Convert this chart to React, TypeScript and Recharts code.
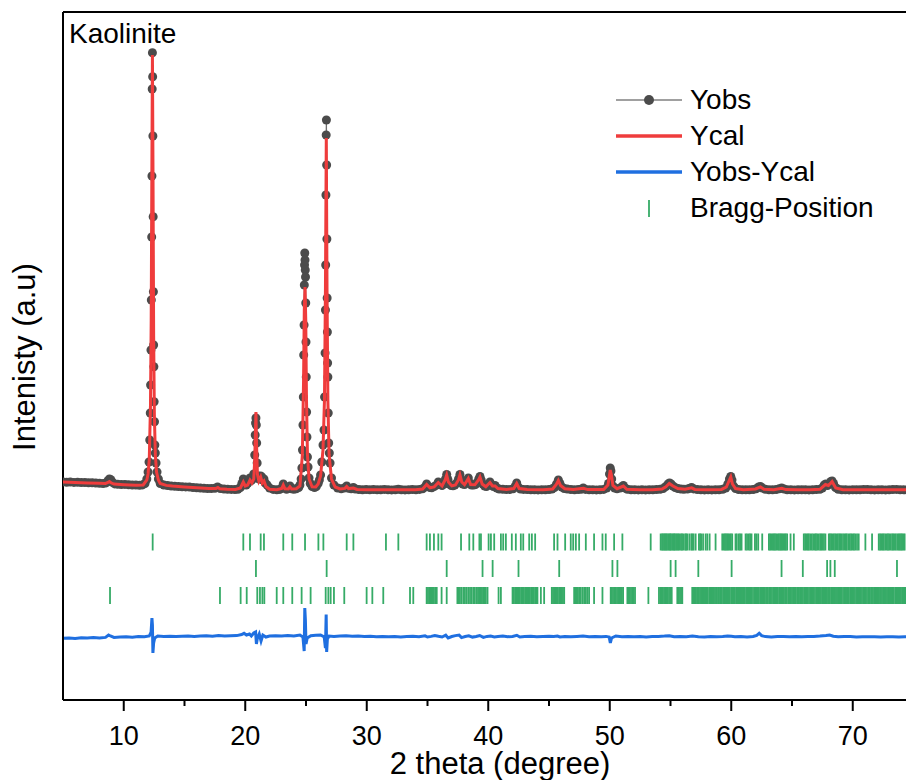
import React from 'react';
import { ComposedChart, Line, Scatter, XAxis, YAxis, ReferenceLine, Legend } from 'recharts';

// 2theta (deg) vs counts
const yObs: [number, number][] = [
  [5.0, 362], [5.3, 356], [5.6, 360], [5.9, 352], [6.2, 356], [6.5, 348], [6.8, 350], [7.1, 344], [7.4, 346],
  [7.7, 338], [8.0, 336], [8.3, 330], [8.55, 342], [8.7, 384], [8.82, 420], [8.94, 404], [9.06, 356], [9.25, 322],
  [9.5, 316], [9.8, 310], [10.1, 312], [10.4, 304], [10.7, 300], [11.0, 298], [11.3, 296], [11.55, 302], [11.75, 330],
  [11.9, 420], [12.0, 560], [12.08, 760], [12.14, 1200], [12.18, 1740], [12.21, 2300], [12.24, 3000], [12.27, 4000],
  [12.3, 5260], [12.32, 6480], [12.34, 8220], [12.36, 8946], [12.38, 8466], [12.4, 7280], [12.42, 5666], [12.44, 4166],
  [12.46, 3100], [12.48, 2666], [12.5, 1966], [12.53, 1566], [12.56, 1100], [12.6, 940], [12.66, 740], [12.74, 560],
  [12.85, 420], [13.0, 330], [13.3, 300], [13.6, 290], [13.9, 280], [14.2, 276], [14.5, 270], [14.8, 266], [15.1, 262],
  [15.4, 258], [15.7, 250], [16.0, 246], [16.3, 240], [16.6, 236], [16.9, 230], [17.2, 228], [17.5, 236], [17.72, 262],
  [17.95, 228], [18.25, 220], [18.55, 216], [18.85, 212], [19.15, 210], [19.4, 214], [19.6, 250], [19.72, 330],
  [19.84, 420], [19.95, 340], [20.08, 300], [20.22, 340], [20.39, 440], [20.5, 390], [20.6, 420], [20.7, 520],
  [20.78, 900], [20.82, 1300], [20.85, 1540], [20.88, 1640], [20.91, 1500], [20.94, 1140], [20.98, 740], [21.05, 480],
  [21.15, 420], [21.27, 480], [21.36, 460], [21.45, 400], [21.54, 420], [21.65, 340], [21.8, 300], [22.0, 240],
  [22.3, 212], [22.6, 206], [22.85, 212], [23.0, 240], [23.13, 320], [23.25, 240], [23.4, 214], [23.55, 230],
  [23.68, 280], [23.8, 226], [24.0, 216], [24.2, 224], [24.4, 250], [24.5, 300], [24.6, 420], [24.66, 640],
  [24.71, 1000], [24.75, 1500], [24.78, 2060], [24.81, 2900], [24.84, 3500], [24.86, 4300], [24.88, 4700], [24.9, 4940],
  [24.92, 4800], [24.94, 4600], [24.96, 4460], [24.98, 3940], [25.0, 3160], [25.02, 2460], [25.05, 1760], [25.08, 1260],
  [25.12, 860], [25.17, 660], [25.25, 440], [25.35, 330], [25.5, 270], [25.7, 250], [25.85, 270], [26.0, 330],
  [26.1, 400], [26.2, 500], [26.3, 760], [26.4, 1100], [26.48, 1400], [26.53, 2060], [26.57, 2940], [26.6, 3800],
  [26.62, 4700], [26.64, 6100], [26.66, 7300], [26.68, 7600], [26.7, 6700], [26.72, 5220], [26.74, 4040], [26.76, 3360],
  [26.78, 2740], [26.8, 2460], [26.83, 1740], [26.87, 1140], [26.92, 940], [26.98, 740], [27.1, 440], [27.3, 300],
  [27.6, 240], [27.9, 224], [28.15, 238], [28.35, 280], [28.5, 236], [28.72, 226], [28.9, 250], [29.05, 220],
  [29.35, 210], [29.65, 206], [29.95, 210], [30.25, 204], [30.55, 208], [30.85, 204], [31.15, 206], [31.45, 212],
  [31.75, 206], [32.05, 202], [32.35, 206], [32.6, 214], [32.85, 204], [33.15, 202], [33.45, 206], [33.75, 210],
  [34.05, 206], [34.35, 212], [34.6, 224], [34.8, 260], [34.93, 320], [35.05, 270], [35.2, 250], [35.35, 246],
  [35.55, 270], [35.75, 300], [35.89, 360], [36.02, 310], [36.2, 290], [36.35, 320], [36.48, 420], [36.58, 510],
  [36.68, 410], [36.8, 320], [36.95, 290], [37.1, 286], [37.25, 300], [37.4, 340], [37.55, 420], [37.67, 510],
  [37.78, 400], [37.9, 320], [38.05, 310], [38.2, 350], [38.36, 440], [38.48, 340], [38.62, 300], [38.8, 300],
  [38.95, 310], [39.1, 350], [39.22, 420], [39.32, 470], [39.42, 400], [39.55, 320], [39.7, 280], [39.85, 270],
  [40.0, 300], [40.14, 360], [40.28, 300], [40.42, 270], [40.56, 290], [40.7, 240], [40.9, 220], [41.2, 214],
  [41.5, 210], [41.8, 212], [42.05, 224], [42.22, 270], [42.34, 340], [42.46, 260], [42.65, 220], [42.9, 212],
  [43.2, 208], [43.5, 206], [43.8, 204], [44.1, 202], [44.4, 204], [44.7, 206], [45.0, 208], [45.25, 220],
  [45.45, 250], [45.62, 320], [45.77, 400], [45.9, 330], [46.05, 260], [46.25, 230], [46.5, 218], [46.8, 210],
  [47.1, 206], [47.4, 208], [47.65, 214], [47.82, 240], [48.0, 212], [48.3, 206], [48.6, 204], [48.9, 202],
  [49.2, 206], [49.5, 212], [49.75, 240], [49.9, 330], [49.98, 520], [50.04, 640], [50.1, 580], [50.16, 420],
  [50.26, 280], [50.4, 240], [50.6, 226], [50.85, 240], [51.0, 262], [51.12, 290], [51.25, 240], [51.45, 214],
  [51.75, 206], [52.05, 204], [52.35, 202], [52.65, 204], [52.95, 202], [53.25, 206], [53.55, 204], [53.85, 208],
  [54.15, 214], [54.4, 230], [54.62, 270], [54.8, 320], [54.92, 340], [55.05, 320], [55.2, 280], [55.38, 250],
  [55.6, 228], [55.85, 218], [56.1, 214], [56.4, 220], [56.6, 236], [56.74, 250], [56.9, 222], [57.2, 208],
  [57.5, 204], [57.8, 202], [58.1, 204], [58.4, 202], [58.7, 204], [59.0, 206], [59.3, 214], [59.55, 240],
  [59.72, 320], [59.85, 420], [59.96, 470], [60.06, 400], [60.18, 280], [60.35, 230], [60.6, 210], [60.9, 206],
  [61.2, 204], [61.5, 204], [61.8, 208], [62.05, 224], [62.25, 262], [62.4, 270], [62.55, 240], [62.8, 214],
  [63.1, 206], [63.4, 204], [63.7, 208], [63.95, 224], [64.15, 240], [64.35, 220], [64.6, 206], [64.9, 204],
  [65.2, 202], [65.5, 204], [65.8, 206], [66.1, 204], [66.4, 202], [66.7, 206], [67.0, 208], [67.3, 214],
  [67.5, 240], [67.65, 300], [67.78, 320], [67.92, 290], [68.08, 320], [68.2, 370], [68.3, 380], [68.42, 330],
  [68.58, 250], [68.8, 214], [69.1, 206], [69.4, 204], [69.7, 202], [70.0, 204], [70.3, 206], [70.6, 204],
  [70.9, 210], [71.2, 208], [71.5, 204], [71.8, 202], [72.1, 206], [72.4, 204], [72.7, 202], [73.0, 206],
  [73.3, 208], [73.6, 212], [73.9, 206], [74.2, 204], [74.5, 202], [74.8, 204], [75.0, 202],
];

const yCal: [number, number][] = [
  [5.0, 360], [6.0, 350], [7.0, 342], [8.0, 334], [8.5, 332], [8.7, 350], [8.82, 370], [8.95, 345], [9.2, 318],
  [10.0, 306], [11.0, 296], [11.6, 300], [11.9, 400], [12.0, 520], [12.1, 800], [12.2, 1900], [12.26, 3600],
  [12.31, 6400], [12.36, 8900], [12.41, 6400], [12.46, 3300], [12.52, 1700], [12.6, 900], [12.7, 560], [12.85, 400],
  [13.0, 330], [13.5, 292], [14.0, 278], [15.0, 262], [16.0, 246], [17.0, 230], [17.6, 232], [17.75, 250],
  [17.9, 226], [18.5, 216], [19.2, 210], [19.6, 240], [19.84, 360], [20.0, 280], [20.2, 300], [20.39, 400],
  [20.55, 340], [20.7, 420], [20.78, 800], [20.84, 1400], [20.88, 1760], [20.93, 1100], [21.0, 520], [21.12, 380],
  [21.27, 460], [21.4, 340], [21.54, 380], [21.7, 270], [22.0, 216], [22.6, 206], [23.0, 230], [23.13, 300],
  [23.26, 226], [23.55, 222], [23.68, 266], [23.82, 222], [24.2, 224], [24.5, 280], [24.7, 900], [24.8, 2400],
  [24.86, 3800], [24.92, 4260], [24.98, 3600], [25.04, 2000], [25.12, 900], [25.25, 420], [25.5, 262], [25.8, 260],
  [26.0, 320], [26.2, 480], [26.4, 1000], [26.52, 2000], [26.6, 4200], [26.67, 7240], [26.73, 4200], [26.8, 2000],
  [26.9, 900], [27.1, 420], [27.4, 260], [27.8, 222], [28.2, 232], [28.35, 270], [28.5, 228], [28.9, 240],
  [29.2, 212], [30.0, 206], [31.0, 206], [32.0, 204], [33.0, 204], [34.0, 206], [34.6, 220], [34.93, 310],
  [35.2, 244], [35.55, 262], [35.89, 350], [36.2, 280], [36.45, 400], [36.58, 500], [36.72, 360], [37.0, 282],
  [37.3, 300], [37.55, 400], [37.67, 500], [37.82, 360], [38.05, 306], [38.36, 430], [38.55, 310], [38.9, 304],
  [39.2, 400], [39.32, 460], [39.5, 320], [39.8, 266], [40.14, 350], [40.35, 280], [40.56, 280], [40.8, 228],
  [41.5, 210], [42.1, 230], [42.34, 330], [42.55, 230], [43.2, 208], [44.5, 204], [45.3, 220], [45.6, 310],
  [45.77, 390], [45.95, 290], [46.3, 226], [47.0, 208], [47.82, 236], [48.2, 208], [49.5, 210], [49.85, 300],
  [49.98, 500], [50.04, 600], [50.12, 520], [50.26, 290], [50.6, 226], [51.12, 280], [51.4, 214], [52.5, 204],
  [53.5, 204], [54.3, 220], [54.62, 264], [54.9, 330], [55.2, 280], [55.6, 228], [56.2, 214], [56.74, 244],
  [57.0, 212], [58.0, 204], [59.2, 212], [59.6, 260], [59.85, 400], [59.96, 460], [60.1, 320], [60.35, 228],
  [61.0, 206], [62.0, 220], [62.4, 262], [62.7, 216], [63.5, 206], [64.15, 234], [64.5, 208], [65.5, 204],
  [66.5, 204], [67.3, 214], [67.75, 310], [68.0, 290], [68.3, 370], [68.6, 240], [69.2, 206], [70.5, 204],
  [72.0, 204], [73.5, 206], [75.0, 202],
];

// Yobs-Ycal, drawn shifted below the patterns
const yDiff: [number, number][] = [
  [5.0, -2766], [5.5, -2760], [6.0, -2770], [6.5, -2756], [7.0, -2762], [7.5, -2752], [8.0, -2758], [8.5, -2748],
  [8.75, -2700], [8.9, -2720], [9.2, -2750], [9.7, -2742], [10.2, -2736], [10.7, -2744], [11.2, -2730], [11.7, -2736],
  [12.1, -2720], [12.25, -2640], [12.32, -2360], [12.36, -2500], [12.4, -3060], [12.46, -2860], [12.55, -2760],
  [12.8, -2720], [13.3, -2730], [13.8, -2724], [14.3, -2732], [14.8, -2726], [15.3, -2720], [15.8, -2728],
  [16.3, -2722], [16.8, -2716], [17.3, -2724], [17.8, -2712], [18.3, -2720], [18.8, -2716], [19.3, -2712],
  [19.7, -2690], [19.9, -2666], [20.1, -2700], [20.35, -2680], [20.5, -2720], [20.7, -2660], [20.85, -2640],
  [20.92, -2880], [21.0, -2760], [21.15, -2680], [21.3, -2820], [21.45, -2700], [21.7, -2740], [22.0, -2720],
  [22.5, -2714], [23.0, -2720], [23.5, -2710], [24.0, -2718], [24.5, -2700], [24.75, -2740], [24.85, -3020],
  [24.9, -2160], [24.95, -2400], [25.0, -2880], [25.1, -2760], [25.4, -2716], [25.8, -2706], [26.2, -2700],
  [26.5, -2740], [26.6, -2960], [26.66, -2290], [26.7, -3040], [26.76, -2780], [26.9, -2720], [27.3, -2730],
  [27.8, -2720], [28.3, -2716], [28.8, -2726], [29.3, -2720], [29.8, -2730], [30.3, -2724], [30.8, -2734],
  [31.3, -2728], [31.8, -2736], [32.3, -2730], [32.8, -2738], [33.3, -2732], [33.8, -2726], [34.3, -2736],
  [34.8, -2716], [35.0, -2740], [35.3, -2728], [35.6, -2710], [35.9, -2726], [36.2, -2740], [36.5, -2704],
  [36.7, -2760], [37.0, -2730], [37.3, -2712], [37.6, -2700], [37.8, -2752], [38.1, -2730], [38.4, -2716],
  [38.7, -2742], [39.0, -2730], [39.3, -2710], [39.6, -2748], [39.9, -2728], [40.2, -2722], [40.5, -2738],
  [40.8, -2730], [41.2, -2722], [41.6, -2734], [42.0, -2728], [42.35, -2706], [42.6, -2740], [43.0, -2732],
  [43.5, -2724], [44.0, -2734], [44.5, -2728], [45.0, -2724], [45.4, -2732], [45.7, -2720], [45.9, -2738],
  [46.3, -2730], [46.8, -2736], [47.3, -2728], [47.8, -2722], [48.3, -2734], [48.8, -2730], [49.3, -2736],
  [49.7, -2728], [49.95, -2740], [50.05, -2860], [50.15, -2760], [50.5, -2720], [51.0, -2736], [51.5, -2728],
  [52.0, -2734], [52.5, -2730], [53.0, -2738], [53.5, -2732], [54.0, -2728], [54.5, -2722], [54.9, -2714],
  [55.3, -2736], [55.8, -2730], [56.3, -2734], [56.8, -2722], [57.3, -2736], [57.8, -2738], [58.3, -2732],
  [58.8, -2736], [59.3, -2730], [59.7, -2718], [60.0, -2726], [60.3, -2736], [60.8, -2732], [61.3, -2738],
  [61.8, -2730], [62.1, -2706], [62.3, -2664], [62.5, -2712], [62.8, -2732], [63.3, -2738], [63.8, -2730],
  [64.3, -2728], [64.8, -2734], [65.3, -2730], [65.8, -2736], [66.3, -2732], [66.8, -2728], [67.3, -2722],
  [67.8, -2712], [68.1, -2700], [68.4, -2724], [68.8, -2736], [69.3, -2730], [69.8, -2732], [70.3, -2738],
  [70.8, -2734], [71.3, -2736], [71.8, -2734], [72.3, -2738], [72.8, -2736], [73.3, -2734], [73.8, -2738],
  [74.3, -2736], [74.8, -2734], [75.0, -2736],
];

// Bragg reflections, one list per phase (top to bottom)
const braggPhase1 = [
  12.38, 19.84, 20.39, 21.27, 21.54, 23.13, 23.87, 24.92, 26.02, 26.43, 28.35, 28.9, 31.58, 32.6, 34.93, 35.2,
  35.53, 35.89, 36.16, 37.76, 38.44, 38.77, 39.27, 39.4, 40.03, 40.22, 40.49, 41.04, 41.23, 41.45, 41.94, 42.27,
  42.68, 42.88, 43.37, 43.59, 43.86, 45.42, 45.7, 46.33, 46.79, 46.99, 47.21, 47.48, 48.03, 48.71, 49.4, 49.67,
  50.36, 51.04, 53.37, 54.19, 54.3, 54.38, 54.47, 54.55, 54.63, 54.71, 54.81, 54.9, 54.97, 55.04, 55.14, 55.23,
  55.3, 55.37, 55.47, 55.56, 55.65, 55.73, 55.86, 55.95, 56.05, 56.2, 56.29, 56.38, 56.55, 56.71, 56.8, 56.9,
  57.07, 57.34, 57.44, 57.52, 57.68, 57.89, 58.03, 58.22, 58.71, 59.26, 59.38, 59.48, 59.57, 59.67, 59.76, 59.86,
  59.97, 60.08, 60.35, 60.46, 60.63, 60.74, 60.85, 61.18, 61.3, 61.45, 61.56, 61.67, 61.95, 62.07, 62.22, 62.55,
  63.1, 63.2, 63.31, 63.41, 63.51, 63.6, 63.7, 63.82, 63.92, 64.02, 64.11, 64.2, 64.3, 64.4, 64.49, 64.6, 64.88,
  65.15, 65.97, 66.08, 66.19, 66.29, 66.38, 66.5, 66.63, 66.75, 66.88, 66.97, 67.07, 67.2, 67.32, 67.42, 67.51,
  67.63, 67.75, 68.03, 68.12, 68.22, 68.33, 68.44, 68.55, 68.66, 68.77, 68.88, 68.98, 69.07, 69.2, 69.32, 69.42,
  69.51, 69.64, 69.76, 69.87, 69.98, 70.09, 70.2, 70.35, 70.49, 71.04, 71.59, 72.14, 72.25, 72.36, 72.46, 72.55,
  72.67, 72.8, 72.9, 73.0, 73.12, 73.24, 73.34, 73.43, 73.55, 73.68, 73.78, 73.87, 73.97, 74.06, 74.17, 74.27,
];
const braggPhase2 = [
  20.88, 26.7, 36.58, 39.53, 40.36, 42.49, 45.84, 50.22, 50.63, 55.01, 55.42, 57.29, 60.03, 64.14, 65.89, 67.89,
  68.16, 68.52, 73.64,
];
const braggPhase3 = [
  8.87, 17.92, 19.62, 20.12, 20.99, 21.21, 21.41, 21.57, 22.59, 23.13, 23.87, 24.64, 25.38, 26.62, 26.84, 27.03,
  27.3, 28.15, 29.99, 30.46, 31.36, 33.56, 33.83, 34.93, 35.04, 35.15, 35.25, 35.34, 35.44, 35.53, 35.65, 35.76,
  36.16, 36.58, 37.46, 37.56, 37.67, 37.8, 37.95, 38.08, 38.22, 38.36, 38.5, 38.63, 38.77, 38.9, 39.05, 39.16,
  39.26, 39.37, 39.48, 39.58, 39.67, 39.8, 39.94, 40.85, 41.04, 42.0, 42.11, 42.22, 42.31, 42.41, 42.5, 42.6,
  42.71, 42.82, 42.93, 43.04, 43.14, 43.23, 43.32, 43.42, 43.53, 43.64, 43.75, 43.86, 43.96, 44.05, 44.33, 44.6,
  45.23, 45.33, 45.42, 45.52, 45.62, 45.73, 45.84, 45.95, 46.05, 46.15, 46.25, 47.07, 47.16, 47.26, 47.37, 47.48,
  47.61, 47.75, 47.89, 48.03, 48.16, 48.3, 48.71, 49.4, 50.08, 50.17, 50.27, 50.38, 50.49, 50.6, 50.71, 50.8,
  50.9, 51.0, 51.1, 51.45, 51.54, 51.64, 51.75, 51.86, 51.97, 52.08, 53.18, 54.05, 54.16, 54.27, 54.37, 54.47,
  54.57, 54.66, 54.77, 54.88, 54.99, 55.1, 55.56, 55.67, 55.78, 55.87, 55.97, 56.79, 56.87, 56.96, 57.07, 57.18,
  57.26, 57.33, 57.43, 57.52, 57.63, 57.74, 57.81, 57.88, 57.98, 58.07, 58.19, 58.31, 58.39, 58.46, 58.56, 58.66,
  58.75, 58.83, 58.95, 59.07, 59.15, 59.22, 59.33, 59.43, 59.54, 59.64, 59.71, 59.78, 59.89, 60.01, 60.1, 60.18,
  60.29, 60.4, 60.49, 60.57, 60.65, 60.73, 60.85, 60.96, 61.04, 61.12, 61.23, 61.34, 61.43, 61.52, 61.6, 61.67,
  61.79, 61.91, 62.0, 62.08, 62.18, 62.27, 62.38, 62.49, 62.56, 62.63, 62.75, 62.86, 62.94, 63.02, 63.13, 63.24,
  63.35, 63.46, 63.53, 63.61, 63.72, 63.83, 63.94, 64.04, 64.13, 64.22, 64.33, 64.43, 64.51, 64.58, 64.7, 64.81,
  64.9, 65.0, 65.1, 65.2, 65.32, 65.43, 65.5, 65.58, 65.69, 65.79, 65.9, 66.01, 66.09, 66.18, 66.29, 66.4,
  66.51, 66.62, 66.69, 66.77, 66.89, 67.0, 67.08, 67.16, 67.27, 67.38, 67.48, 67.57, 67.65, 67.74, 67.85, 67.96,
  68.04, 68.12, 68.23, 68.34, 68.44, 68.53, 68.62, 68.71, 68.82, 68.93, 69.0, 69.08, 69.2, 69.31, 69.42, 69.52,
  69.6, 69.68, 69.79, 69.9, 69.98, 70.07, 70.18, 70.29, 70.39, 70.48, 70.57, 70.66, 70.76, 70.87, 70.97, 71.06,
  71.17, 71.28, 71.35, 71.42, 71.54, 71.66, 71.76, 71.85, 71.94, 72.03, 72.14, 72.24, 72.32, 72.41, 72.52, 72.63,
  72.73, 72.82, 72.91, 73.01, 73.12, 73.22, 73.3, 73.38, 73.5, 73.61, 73.71, 73.8, 73.88, 73.97, 74.08, 74.19,
  74.28, 74.36,
];
const braggLevels = [-840, -1370, -1910];

const xTicks = [10, 15, 20, 25, 30, 35, 40, 45, 50, 55, 60, 65, 70, 75];
const legendNames = ['Yobs', 'Ycal', 'Yobs-Ycal', 'Bragg-Position'];

const FONT = "'Liberation Sans', Arial, Helvetica, sans-serif";
const GREY = '#4b4b4b';
const RED = '#ef3c3c';
const BLUE = '#1f6fe0';
const GREEN = '#36ab67';

const toRows = (pts: [number, number][]) => pts.map(([x, y]) => ({ x, y }));
const obsData = toRows(yObs);
const calData = toRows(yCal);
const diffData = toRows(yDiff);
const braggData = [braggPhase1, braggPhase2, braggPhase3].map((xs, i) => xs.map((x) => ({ x, y: braggLevels[i] })));

const BraggTick = (props: any) => {
  const { cx, cy } = props;
  return <line x1={cx} x2={cx} y1={cy - 8.5} y2={cy + 8.5} stroke={GREEN} strokeWidth={1.8} />;
};

const XTick = (props: any) => {
  const { x, y, payload } = props;
  const major = payload.value % 10 === 0;
  return (
    <g>
      <line x1={x} x2={x} y1={y} y2={y + (major ? 11 : 6)} stroke="#000" strokeWidth={2} />
      {major && (
        <text x={x} y={y + 45} textAnchor="middle" fontSize={27} fontFamily={FONT} fill="#000">
          {payload.value}
        </text>
      )}
    </g>
  );
};

const LegendIcon = ({ i }: { i: number }) => (
  <svg width={82} height={36} style={{ display: 'block' }}>
    {i === 0 && (
      <>
        <line x1={8} x2={74} y1={18} y2={18} stroke="#808080" strokeWidth={1.5} />
        <circle cx={41} cy={18} r={5} fill={GREY} />
      </>
    )}
    {i === 1 && <line x1={8} x2={74} y1={18} y2={18} stroke={RED} strokeWidth={3.5} />}
    {i === 2 && <line x1={8} x2={74} y1={18} y2={18} stroke={BLUE} strokeWidth={3.5} />}
    {i === 3 && <line x1={41} x2={41} y1={10} y2={27} stroke={GREEN} strokeWidth={1.8} />}
  </svg>
);

const LegendBox = () => (
  <div style={{ fontFamily: FONT, fontSize: 28, color: '#000' }}>
    {legendNames.map((name, i) => (
      <div key={name} style={{ display: 'flex', alignItems: 'center', height: 36 }}>
        <LegendIcon i={i} />
        <span style={{ lineHeight: '36px', whiteSpace: 'nowrap' }}>{name}</span>
      </div>
    ))}
  </div>
);

export default function App() {
  return (
    <div style={{ position: 'absolute', left: 0, top: 0, width: 906, height: 780, overflow: 'hidden', background: '#fff' }}>
      <ComposedChart width={920} height={780} margin={{ top: 12, right: 6.5, bottom: 0, left: 23 }}>
        <XAxis
          type="number"
          dataKey="x"
          domain={[5, 75]}
          allowDataOverflow
          ticks={xTicks}
          interval={0}
          height={80}
          tickSize={0}
          tickMargin={0}
          tickLine={false}
          tick={XTick}
          axisLine={{ stroke: '#000', strokeWidth: 2 }}
          label={{
            content: () => (
              <text x={500} y={774} textAnchor="middle" fontSize={31} fontFamily={FONT} fill="#000">
                2 theta (degree)
              </text>
            ),
          }}
        />
        <YAxis
          type="number"
          domain={[-4000, 9760]}
          allowDataOverflow
          width={40}
          tick={false}
          tickLine={false}
          axisLine={{ stroke: '#000', strokeWidth: 2 }}
          label={{
            content: () => (
              <text transform="translate(35,357) rotate(-90)" textAnchor="middle" fontSize={31} fontFamily={FONT} fill="#000">
                Intenisty (a.u)
              </text>
            ),
          }}
        />
        <ReferenceLine
          y={9760}
          stroke="#000"
          strokeWidth={2}
          label={{
            content: () => (
              <text x={69} y={43} fontSize={28} fontFamily={FONT} fill="#000">
                Kaolinite
              </text>
            ),
          }}
        />
        <Line
          data={obsData}
          dataKey="y"
          type="linear"
          stroke="#6e6e6e"
          strokeWidth={1.2}
          dot={{ r: 4.5, fill: GREY, stroke: GREY, strokeWidth: 0 }}
          activeDot={false}
          isAnimationActive={false}
        />
        <Line
          data={calData}
          dataKey="y"
          type="linear"
          stroke={RED}
          strokeWidth={3}
          dot={false}
          activeDot={false}
          isAnimationActive={false}
          zIndex={1200}
        />
        <Line
          data={diffData}
          dataKey="y"
          type="linear"
          stroke={BLUE}
          strokeWidth={3}
          dot={false}
          activeDot={false}
          isAnimationActive={false}
        />
        {braggData.map((rows, i) => (
          <Scatter key={i} data={rows} dataKey="y" shape={BraggTick} isAnimationActive={false} />
        ))}
        <Legend
          layout="vertical"
          align="center"
          verticalAlign="middle"
          content={LegendBox}
          wrapperStyle={{ left: 608, top: 82, width: 300 }}
        />
      </ComposedChart>
    </div>
  );
}
